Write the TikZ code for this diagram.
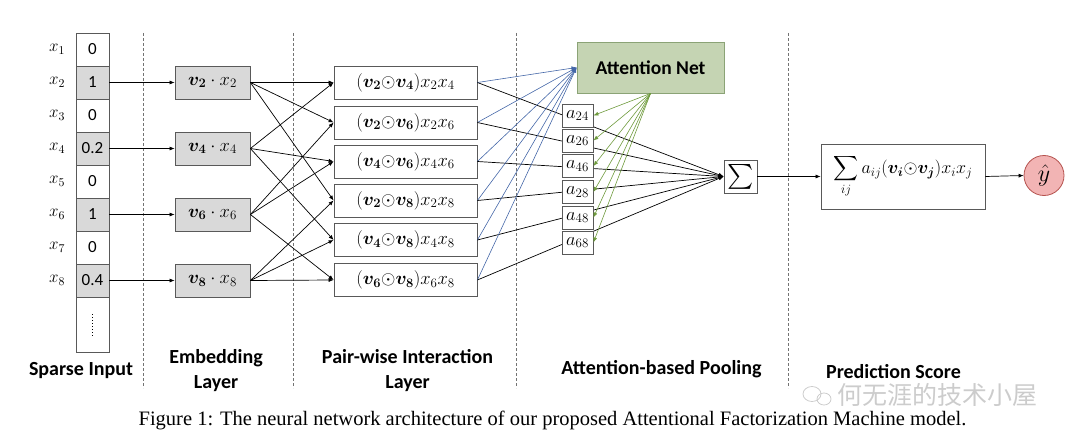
\RequirePackage{fix-cm}
\documentclass[tikz,border=0pt]{standalone}
\usepackage{amsmath}
\usepackage{bm}
\usepackage{fontspec}
\newfontfamily\calib{Carlito}
\newfontfamily\capfont{Liberation Serif}
\newfontfamily\cjk{Noto Sans CJK SC}
\usetikzlibrary{arrows.meta}
\definecolor{attfill}{HTML}{C5D4B3}
\definecolor{attdraw}{HTML}{8BA376}
\definecolor{bluel}{HTML}{4467A8}
\definecolor{greenl}{HTML}{6E9A3C}
\definecolor{yfill}{HTML}{F2B4B4}
\definecolor{ydraw}{HTML}{B5524E}
\definecolor{boxgray}{HTML}{D9D9D9}
\definecolor{edgegray}{HTML}{595959}
\begin{document}
\begin{tikzpicture}[x=1pt,y=-1pt,
  cell/.style={draw=edgegray, line width=0.8pt, minimum width=33pt, minimum height=33pt, inner sep=0pt, font=\calib\fontsize{17}{17}\selectfont},
  shaded/.style={fill=boxgray},
  xlab/.style={font=\fontsize{17}{17}\selectfont},
  emb/.style={draw=edgegray, line width=0.8pt, fill=boxgray, minimum width=75pt, minimum height=33pt, inner sep=0pt, font=\fontsize{18.5}{18.5}\selectfont},
  pair/.style={draw=edgegray, line width=0.8pt, minimum width=143pt, minimum height=33pt, inner sep=0pt, font=\fontsize{18.5}{18.5}\selectfont},
  abox/.style={draw=edgegray, line width=0.8pt, fill=white, minimum width=31pt, minimum height=23pt, inner sep=0pt, font=\fontsize{18.5}{18.5}\selectfont},
  arr/.style={-{Latex[length=5pt,width=4pt]}, line width=0.7pt},
  sep/.style={draw=black!55, line width=0.7pt, dash pattern=on 3pt off 2pt},
  lab/.style={font=\calib\bfseries\fontsize{20}{25}\selectfont, align=center},
]
\useasboundingbox (0,0) rectangle (1080,444);

% separators
\foreach \xx in {143,293,516.5,788} \draw[sep] (\xx,33) -- (\xx,388);

% sparse input
\node[cell] (s1) at (92.5,49.5) {0};
\node[cell,shaded] (s2) at (92.5,82.5) {1};
\node[cell] (s3) at (92.5,115.5) {0};
\node[cell,shaded] (s4) at (92.5,148.5) {0.2};
\node[cell] (s5) at (92.5,181.5) {0};
\node[cell,shaded] (s6) at (92.5,214.5) {1};
\node[cell] (s7) at (92.5,247.5) {0};
\node[cell,shaded] (s8) at (92.5,280.5) {0.4};
\node[cell, minimum height=55pt] (sd) at (92.5,324.5) {};
\draw[line width=1.3pt, dash pattern=on 1pt off 2pt] ([yshift=-11pt]sd.center) -- ([yshift=12pt]sd.center);
\foreach \i/\yy in {1/49.5,2/82.5,3/115.5,4/148.5,5/181.5,6/214.5,7/247.5,8/280.5}
  \node[xlab] (xl\i) at (57,\yy) {$x_{\i}$};

% embedding
\node[emb] (e2) at (212.5,82.5) {$\bm{v_2}\cdot x_2$};
\node[emb] (e4) at (212.5,148.5) {$\bm{v_4}\cdot x_4$};
\node[emb] (e6) at (212.5,214.5) {$\bm{v_6}\cdot x_6$};
\node[emb] (e8) at (212.5,280.5) {$\bm{v_8}\cdot x_8$};
\foreach \i in {2,4,6,8} \draw[arr] (s\i.east) -- (e\i.west);

% pair-wise
\node[pair] (p24) at (405.5,82.5) {$(\bm{v_2}{\odot}\bm{v_4})x_2x_4$};
\node[pair] (p26) at (405.5,122.5) {$(\bm{v_2}{\odot}\bm{v_6})x_2x_6$};
\node[pair] (p46) at (405.5,161.5) {$(\bm{v_4}{\odot}\bm{v_6})x_4x_6$};
\node[pair] (p28) at (405.5,200.5) {$(\bm{v_2}{\odot}\bm{v_8})x_2x_8$};
\node[pair] (p48) at (405.5,240) {$(\bm{v_4}{\odot}\bm{v_8})x_4x_8$};
\node[pair] (p68) at (405.5,280) {$(\bm{v_6}{\odot}\bm{v_8})x_6x_8$};
\foreach \e/\p in {2/24,2/26,2/28,4/24,4/46,4/48,6/26,6/46,6/68,8/28,8/48,8/68}
  \draw[arr] (e\e.east) -- (p\p.west);

% attention net and pooling
\node[draw=attdraw, fill=attfill, line width=0.9pt, minimum width=147pt, minimum height=51pt, inner sep=0pt, font=\calib\bfseries\fontsize{19.5}{20}\selectfont] (att) at (650.5,67.5) {Attention Net};
\node[draw=edgegray, line width=0.8pt, minimum width=33pt, minimum height=33pt, inner sep=0pt, font=\fontsize{24}{24}\selectfont] (sig) at (740.5,176.5) {$\sum$};

\foreach \p in {24,26,46,28,48,68} {
  \draw[arr, draw=bluel, color=bluel, line width=0.6pt] (p\p.east) -- (att.west);
  \draw[arr] (p\p.east) -- (sig.west);
}
\node[abox] (a24) at (577.5,115.5) {$a_{24}$};
\node[abox] (a26) at (577.5,140.5) {$a_{26}$};
\node[abox] (a46) at (577.5,166) {$a_{46}$};
\node[abox] (a28) at (577.5,192) {$a_{28}$};
\node[abox] (a48) at (577.5,217.5) {$a_{48}$};
\node[abox] (a68) at (577.5,242.5) {$a_{68}$};
\foreach \p in {24,26,46,28,48,68}
  \draw[arr, draw=greenl, color=greenl, line width=0.6pt] (att.south) -- (a\p.east);

% prediction
\node[draw=edgegray, line width=0.8pt, minimum width=164pt, minimum height=65pt, inner sep=0pt, font=\fontsize{18}{18}\selectfont] (pred) at (903,176.5) {$\displaystyle\sum_{ij} a_{ij}(\bm{v_i}{\odot}\bm{v_j})x_ix_j$};
\node[circle, draw=ydraw, fill=yfill, line width=0.8pt, minimum size=40pt, inner sep=0pt, font=\fontsize{24}{24}\selectfont] (yh) at (1044,175.5) {$\hat{y}$};
\draw[arr] (sig.east) -- (pred.west);
\draw[arr] (pred.east) -- (yh.west);

% layer labels
\node[lab] (l1) at (81,371) {Sparse Input};
\node[lab] (l2) at (216,371) {Embedding\\Layer};
\node[lab] (l3) at (407.5,371) {Pair-wise Interaction\\Layer};
\node[lab] (l4) at (661.5,369) {Attention-based Pooling};
\node[lab] (l5) at (893.5,372) {Prediction Score};

% watermark
\draw[black!20, line width=0.8pt] (812,394) ellipse (9pt and 7.5pt);
\draw[black!20, line width=0.8pt] (824,399) ellipse (7pt and 6pt);
\node[font=\cjk\fontsize{25}{25}\selectfont, text=black!20, inner sep=0pt] (wm) at (937,395) {何无涯的技术小屋};

% caption
\node[font=\capfont\fontsize{20.5}{21}\selectfont, inner sep=0pt] (cap) at (552.5,420) {Figure 1: The neural network architecture of our proposed Attentional Factorization Machine model.};
\end{tikzpicture}
\end{document}
